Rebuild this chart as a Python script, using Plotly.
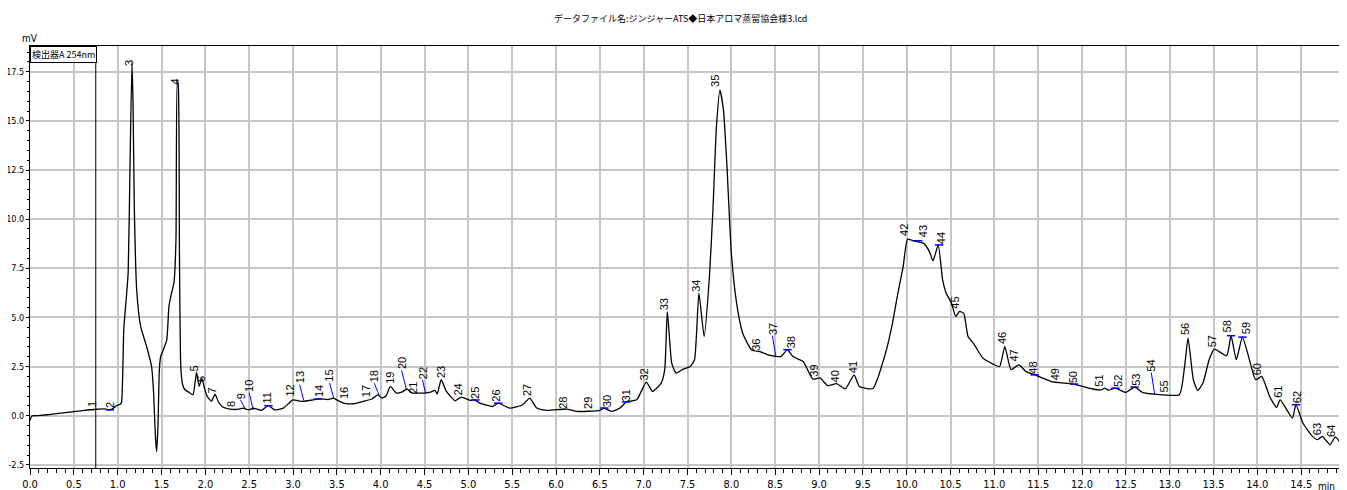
import plotly.graph_objects as go

# ---------------- data ----------------
time_min = [0.00, 0.02, 0.05, 0.2, 0.4, 0.6, 0.76, 0.85, 0.91, 0.95, 0.99, 1.03, 1.045, 1.07, 1.10, 1.12, 1.14,
            1.163, 1.175, 1.19, 1.217, 1.262, 1.33, 1.387, 1.41, 1.43, 1.445, 1.46, 1.475, 1.49, 1.52, 1.56,
            1.585, 1.615, 1.642, 1.665, 1.68, 1.69, 1.705, 1.72, 1.74, 1.767, 1.82, 1.86, 1.88, 1.90, 1.93,
            1.96, 1.99, 2.02, 2.07, 2.11, 2.15, 2.19, 2.28, 2.36, 2.43, 2.49, 2.55, 2.64, 2.72, 2.79, 2.89,
            3.0, 3.06, 3.12, 3.23, 3.31, 3.40, 3.46, 3.53, 3.60, 3.69, 3.80, 3.90, 3.97, 4.01, 4.06, 4.11,
            4.18, 4.24, 4.30, 4.36, 4.41, 4.50, 4.57, 4.62, 4.645, 4.69, 4.75, 4.85, 4.92, 5.02, 5.07, 5.13,
            5.28, 5.34, 5.47, 5.62, 5.70, 5.78, 5.90, 6.12, 6.23, 6.5, 6.55, 6.63, 6.73, 6.80, 6.92, 7.03,
            7.10, 7.20, 7.24, 7.27, 7.32, 7.37, 7.45, 7.53, 7.58, 7.63, 7.69, 7.75, 7.79, 7.83, 7.87, 7.91,
            7.95, 8.0, 8.06, 8.13, 8.23, 8.34, 8.42, 8.51, 8.57, 8.64, 8.70, 8.78, 8.82, 8.87, 8.93, 9.01,
            9.10, 9.20, 9.30, 9.40, 9.46, 9.56, 9.62, 9.67, 9.73, 9.77, 9.84, 9.90, 9.96, 10.01, 10.07,
            10.19, 10.26, 10.30, 10.36, 10.41, 10.45, 10.51, 10.56, 10.60, 10.65, 10.70, 10.76, 10.87,
            10.98, 11.06, 11.12, 11.19, 11.28, 11.36, 11.46, 11.65, 11.90, 12.12, 12.22, 12.26, 12.30,
            12.38, 12.50, 12.60, 12.69, 12.83, 13.11, 13.17, 13.21, 13.27, 13.32, 13.38, 13.45, 13.51,
            13.65, 13.70, 13.76, 13.83, 13.91, 13.98, 14.05, 14.14, 14.22, 14.26, 14.40, 14.44, 14.52,
            14.63, 14.69, 14.74, 14.83, 14.89, 14.98, 15.0]
signal_mv = [-0.25, -0.02, 0.0, 0.05, 0.16, 0.26, 0.33, 0.35, 0.30, 0.38, 0.52, 0.58, 0.7, 4.4, 6.07, 7.3, 12.5,
             17.95, 16.0, 10.6, 6.4, 4.54, 3.52, 2.5, 1.17, -1.0, -1.83, -0.5, 2.3, 3.0, 3.35, 3.86,
             5.56, 6.25, 6.76, 8.95, 17.0, 16.9, 8.0, 2.5, 1.6, 1.32, 1.17, 1.07, 1.6, 2.2, 1.5,
             1.9, 1.4, 1.0, 0.73, 1.1, 0.7, 0.47, 0.34, 0.32, 0.39, 0.3, 0.38, 0.27, 0.51, 0.3, 0.39,
             0.81, 0.76, 0.73, 0.81, 0.86, 0.82, 0.9, 0.73, 0.62, 0.61, 0.73, 0.85, 1.07, 0.9, 1.0, 1.49,
             1.15, 1.2, 1.36, 1.15, 1.15, 1.15, 1.2, 1.29, 1.1, 1.83, 1.24, 0.76, 0.95, 0.78, 0.81, 0.64,
             0.47, 0.64, 0.39, 0.56, 0.9, 0.39, 0.27, 0.34, 0.22, 0.27, 0.39, 0.22, 0.39, 0.7, 0.81, 1.71,
             1.24, 1.66, 2.34, 5.3, 2.68, 2.17, 2.37, 2.5, 2.85, 6.24, 4.03, 7.08, 10.47, 14.7, 16.57, 15.56,
             12.7, 8.27, 5.73, 4.2, 3.36, 3.24, 3.1, 3.02, 3.02, 3.36, 3.02, 2.85, 2.76, 2.34, 1.86, 1.92,
             1.53, 1.63, 1.37, 2.08, 1.49, 1.37, 1.4, 1.9, 2.75, 3.36, 4.75, 6.24, 7.59, 8.98, 8.91,
             8.78, 8.35, 7.88, 8.69, 6.91, 6.24, 5.73, 5.05, 5.3, 5.22, 4.03, 3.69, 2.93,
             2.64, 2.5, 3.52, 2.34, 2.59, 2.25, 2.08, 1.74, 1.61, 1.36, 1.32, 1.4, 1.3,
             1.4, 1.19, 1.46, 1.19, 1.1, 1.07, 2.5, 3.95, 1.83, 1.29, 1.66, 2.85, 3.39,
             3.05, 4.07, 2.85, 4.0, 2.85, 1.83, 2.0, 0.98, 0.42, 0.81, -0.12, 0.56, -0.37,
             -1.05, -1.22, -1.05, -1.47, -1.08, -1.56, -1.55]

peak_no = list(range(1, 65))
label_time = [0.71, 0.92, 1.13, 1.648, 1.87, 1.944, 2.075, 2.286, 2.40, 2.50, 2.706, 2.965, 3.075, 3.29,
              3.417, 3.584, 3.835, 3.926, 4.108, 4.238, 4.37, 4.477, 4.69, 4.884, 5.078, 5.32, 5.67,
              6.08, 6.366, 6.583, 6.80, 6.993, 7.23, 7.594, 7.822, 8.286, 8.468, 8.677, 8.94, 9.18,
              9.39, 9.977, 10.186, 10.395, 10.55, 11.08, 11.23, 11.44, 11.69, 11.90, 12.19, 12.41,
              12.62, 12.79, 12.94, 13.17, 13.485, 13.657, 13.865, 14.006, 14.234, 14.447, 14.69, 14.84]
label_mv = [0.40, 0.32, 17.74, 16.83, 2.19, 1.68, 1.07, 0.41, 0.81, 1.17, 0.56, 0.92, 1.58, 0.92,
            1.66, 0.81, 0.90, 1.66, 1.58, 2.30, 1.07, 1.83, 1.87, 0.98, 0.81, 0.68, 0.95,
            0.30, 0.30, 0.39, 0.68, 1.74, 5.30, 6.24, 16.66, 3.27, 4.07, 3.36, 1.92, 1.63,
            2.12, 9.08, 9.03, 8.69, 5.39, 3.61, 2.68, 2.08, 1.74, 1.61, 1.41, 1.41,
            1.49, 2.20, 1.15, 4.03, 3.44, 4.20, 4.07, 2.00, 0.85, 0.56, -1.05, -1.13]

# leader lines (peak number, point on the trace)
leader_no = [9, 10, 13, 15, 18, 20, 22, 37, 54]
leader_time = [2.45, 2.546, 3.124, 3.466, 3.98, 4.295, 4.512, 8.506, 12.83]
leader_mv = [0.39, 0.30, 0.76, 0.88, 1.07, 1.32, 1.15, 3.02, 1.07]

# short blue peak-top marks
tick_time = [0.91, 2.72, 3.28, 5.08, 5.34, 6.55, 6.80, 8.64, 10.37, 11.46, 11.91, 12.38, 12.60,
             13.70, 13.83, 14.44]
tick_mv = [0.30, 0.51, 0.85, 0.80, 0.64, 0.39, 0.70, 3.36, 8.69, 2.08, 1.61, 1.40, 1.46,
           4.07, 4.00, 0.56]
wide_tick_time = [10.07, 10.18]
wide_tick_mv = [8.90, 8.90]

start_marker_time = 0.75

x_tick_vals = [i * 0.5 for i in range(30)]
x_tick_text = ["%.1f" % v for v in x_tick_vals]
y_tick_vals = [-2.5, 0.0, 2.5, 5.0, 7.5, 10.0, 12.5, 15.0, 17.5]
y_tick_text = ["-2.5", "0.0", "2.5", "5.0", "7.5", "10.0", "12.5", "15.0", "17.5"]

title_text = "データファイル名:ジンジャーATS◆日本アロマ蒸留協会様3.lcd"
detector_text = "検出器A 254nm"

# ---------------- figure ----------------
NARROW = "Liberation Sans Narrow, Arial Narrow, DejaVu Sans Condensed, sans-serif"
JP = "Liberation Sans Narrow, Noto Sans CJK JP, sans-serif"
BLUE = "#0000ff"

fig = go.Figure()

# leader lines
lx, ly = [], []
for n, t, v in zip(leader_no, leader_time, leader_mv):
    i = peak_no.index(n)
    lx += [label_time[i], t, None]
    ly += [label_mv[i], v, None]
fig.add_trace(go.Scatter(x=lx, y=ly, mode="lines", line=dict(color=BLUE, width=1),
                         hoverinfo="skip", showlegend=False))

fig.add_trace(go.Scatter(x=time_min, y=signal_mv, mode="lines",
                         line=dict(color="black", width=1.3, shape="spline", smoothing=0.5),
                         showlegend=False))

fig.add_trace(go.Scatter(x=tick_time, y=tick_mv, mode="markers",
                         marker=dict(symbol="line-ew", size=6, line=dict(color=BLUE, width=1.5)),
                         hoverinfo="skip", showlegend=False))
fig.add_trace(go.Scatter(x=wide_tick_time, y=wide_tick_mv, mode="lines",
                         line=dict(color=BLUE, width=1.5), hoverinfo="skip", showlegend=False))

annotations = []
for n, t, v in zip(peak_no, label_time, label_mv):
    annotations.append(dict(x=t, y=v, xref="x", yref="y", text=str(n), showarrow=False,
                            textangle=-90, xanchor="center", yanchor="bottom", borderpad=0,
                            font=dict(family="Liberation Sans, Arial, sans-serif", size=11,
                                      color="black")))

annotations += [
    dict(x=0.495, y=1.066, xref="paper", yref="paper", text=title_text, showarrow=False,
         xanchor="center", yanchor="middle", font=dict(family=JP, size=9, color="black")),
    dict(x=0, y=1, xref="paper", yref="paper", text=detector_text, showarrow=False,
         xanchor="left", yanchor="top", bordercolor="black", borderwidth=1, borderpad=1,
         bgcolor="white", font=dict(family=JP, size=9, color="black")),
    dict(x=0, y=1, xref="paper", yref="paper", text="mV", showarrow=False,
         xanchor="center", yanchor="bottom", font=dict(family=NARROW, size=10, color="black")),
    dict(x=1, y=-0.045, xref="paper", yref="paper", text="min", showarrow=False, xshift=-9,
         xanchor="right", yanchor="middle", borderpad=0,
         font=dict(family=NARROW, size=10, color="black")),
]

# The page body adds an 8px offset, so the figure is sized/margined to compensate.
fig.update_layout(
    template="none",
    width=1339, height=482,
    margin=dict(l=22, r=2, t=38, b=22),
    paper_bgcolor="white", plot_bgcolor="white",
    annotations=annotations,
    shapes=[dict(type="line", xref="x", yref="paper", x0=start_marker_time, x1=start_marker_time,
                 y0=0, y1=1, line=dict(color="black", width=1))],
)

fig.update_xaxes(range=[0, 15.0], automargin=False, tickmode="array", tickvals=x_tick_vals,
                 ticktext=x_tick_text, ticks="outside", ticklen=6, tickcolor="black", tickwidth=1,
                 showline=True, linecolor="black", linewidth=1, mirror=True, showgrid=True,
                 gridcolor="#c6c6c6", gridwidth=1.5, zeroline=False,
                 tickfont=dict(family=NARROW, size=11, color="black"),
                 minor=dict(tickmode="linear", tick0=0, dtick=0.1, ticks="outside", ticklen=4,
                            tickcolor="black", tickwidth=1, showgrid=False))
fig.update_yaxes(range=[-2.66, 18.81], automargin=False, tickmode="array", tickvals=y_tick_vals,
                 ticktext=y_tick_text, ticks="outside", ticklen=3, tickcolor="black", tickwidth=1,
                 showline=True, linecolor="black", linewidth=1, mirror=True, showgrid=True,
                 gridcolor="#c6c6c6", gridwidth=1.5, zeroline=False,
                 tickfont=dict(family=NARROW, size=9, color="black"),
                 minor=dict(tickmode="linear", tick0=0, dtick=0.5, ticks="outside", ticklen=2,
                            tickcolor="black", tickwidth=1, showgrid=False))

fig.write_html("out.html")
